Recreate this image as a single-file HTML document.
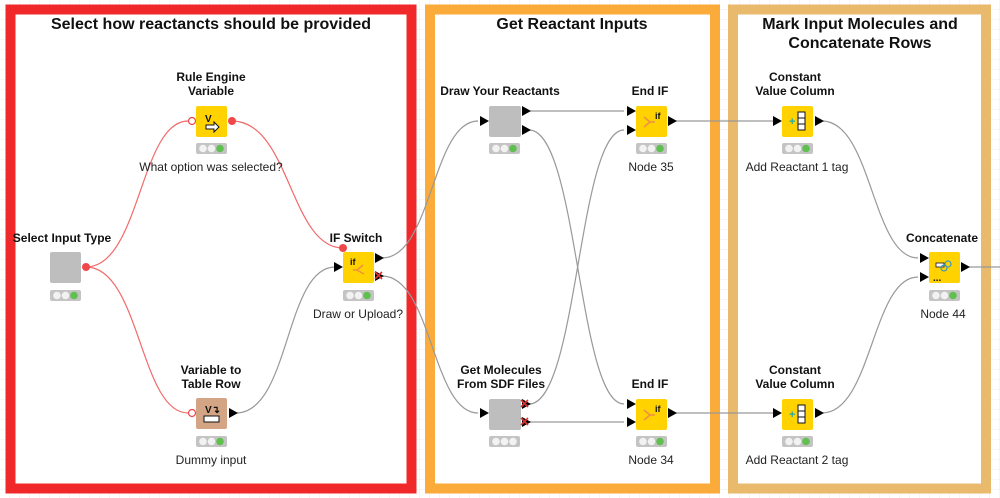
<!DOCTYPE html>
<html><head><meta charset="utf-8"><style>
html,body{margin:0;padding:0;background:#fff;}
svg{display:block;}
text{font-family:"Liberation Sans",Arial,sans-serif;}
.t{font-weight:bold;font-size:12px;text-anchor:middle;fill:#111;}
.l{font-size:12px;text-anchor:middle;fill:#222;}
.h{font-weight:bold;font-size:16px;text-anchor:middle;fill:#111;}
</style></head><body>
<svg width="1000" height="498" viewBox="0 0 1000 498" xmlns="http://www.w3.org/2000/svg">
<defs>
<pattern id="g" width="10" height="10" patternUnits="userSpaceOnUse">
<path d="M10 0V10M0 10H10" stroke="#ececec" stroke-width="1" fill="none"/>
</pattern>
</defs>
<rect width="1000" height="498" fill="#fff"/>
<rect width="1000" height="498" fill="url(#g)"/>
<!-- annotation boxes -->
<rect x="10.5" y="9.5" width="401" height="479" fill="#fff" stroke="#f0282a" stroke-width="10"/>
<rect x="430" y="9.5" width="285" height="479" fill="#fff" stroke="#fbab3a" stroke-width="10"/>
<rect x="733" y="9.5" width="253" height="479" fill="#fff" stroke="#e9b96c" stroke-width="10"/>
<text class="h" x="211" y="29">Select how reactancts should be provided</text>
<text class="h" x="572" y="29">Get Reactant Inputs</text>
<text class="h" x="860" y="29">Mark Input Molecules and</text>
<text class="h" x="860" y="48">Concatenate Rows</text>

<!-- connections -->
<g fill="none" stroke-width="1.2">
<path d="M86 267 C140 267 140 121 188 121" stroke="#f26a6a"/>
<path d="M86 267 C140 267 140 413 188 413" stroke="#f26a6a"/>
<path d="M232 121 C290 121 290 248 343 248" stroke="#f26a6a"/>
<path d="M236 413 C290 413 285 267 335 267" stroke="#999"/>
<path d="M382 258 C432 258 432 121 478 121" stroke="#999"/>
<path d="M382 276 C432 276 432 413 478 413" stroke="#999"/>
<path d="M529 111 L624 111" stroke="#999"/>
<path d="M529 130 C578 130 578 404 624 404" stroke="#999"/>
<path d="M529 404 C578 404 578 130 624 130" stroke="#999"/>
<path d="M529 422 L624 422" stroke="#999"/>
<path d="M675 121 L774 121" stroke="#999"/>
<path d="M675 413 L774 413" stroke="#999"/>
<path d="M822 121 C872 121 872 258 918 258" stroke="#999"/>
<path d="M822 413 C872 413 872 277 918 277" stroke="#999"/>
<path d="M968 267 L1000 267" stroke="#999"/>
</g>

<!-- Select Input Type -->
<text class="t" x="62" y="242">Select Input Type</text>
<rect x="50" y="252" width="31" height="31" rx="2" fill="#bdbebd"/>
<circle cx="86" cy="267" r="4" fill="#f0474a"/>
<g transform="translate(50,290)"><rect width="31" height="11" rx="2" fill="#c4c4c4"/><circle cx="7" cy="5.5" r="3.8" fill="#f2f2f2"/><circle cx="15.5" cy="5.5" r="3.8" fill="#f2f2f2"/><circle cx="24" cy="5.5" r="3.8" fill="#5fbf4f"/></g>

<!-- Rule Engine Variable -->
<text class="t" x="211" y="81">Rule Engine</text>
<text class="t" x="211" y="95">Variable</text>
<rect x="196" y="106" width="31" height="31" rx="2" fill="#ffd200"/>
<text x="205" y="122" font-size="10" font-weight="bold" fill="#111">V</text>
<path d="M206 125h8v-3l5 5-5 5v-3h-8z" fill="#fff" stroke="#111" stroke-width="1"/>
<circle cx="192" cy="121" r="3.5" fill="#fff" stroke="#f0474a" stroke-width="1.2"/>
<circle cx="232" cy="121" r="4" fill="#f0474a"/>
<g transform="translate(196,143)"><rect width="31" height="11" rx="2" fill="#c4c4c4"/><circle cx="7" cy="5.5" r="3.8" fill="#f2f2f2"/><circle cx="15.5" cy="5.5" r="3.8" fill="#f2f2f2"/><circle cx="24" cy="5.5" r="3.8" fill="#5fbf4f"/></g>
<text class="l" x="211" y="171">What option was selected?</text>

<!-- Variable to Table Row -->
<text class="t" x="211" y="374">Variable to</text>
<text class="t" x="211" y="388">Table Row</text>
<rect x="196" y="398" width="31" height="31" rx="2" fill="#d4a585"/>
<text x="205" y="413" font-size="10" font-weight="bold" fill="#111">V↴</text>
<rect x="204" y="416" width="15" height="6" fill="#fff" stroke="#111" stroke-width="1"/>
<circle cx="192" cy="413" r="3.5" fill="#fff" stroke="#f0474a" stroke-width="1.2"/>
<path d="M229 408l9 5-9 5z" fill="#000"/>
<g transform="translate(196,436)"><rect width="31" height="11" rx="2" fill="#c4c4c4"/><circle cx="7" cy="5.5" r="3.8" fill="#f2f2f2"/><circle cx="15.5" cy="5.5" r="3.8" fill="#f2f2f2"/><circle cx="24" cy="5.5" r="3.8" fill="#5fbf4f"/></g>
<text class="l" x="211" y="464">Dummy input</text>

<!-- IF Switch -->
<text class="t" x="356" y="242">IF Switch</text>
<rect x="343" y="252" width="31" height="31" rx="2" fill="#ffd200"/>
<text x="350" y="265" font-size="9" font-weight="bold" fill="#111">if</text>
<path d="M357 270l6-5M357 270l7 4M357 270h-4" stroke="#f09040" stroke-width="1.5" fill="none"/>
<circle cx="343" cy="248" r="4" fill="#f0474a"/>
<path d="M334 262l9 5-9 5z" fill="#000"/>
<path d="M375 253l9 5-9 5z" fill="#000"/>
<path d="M375 271l9 5-9 5z" fill="#000"/>
<path d="M375 272l7 7M382 272l-7 7" stroke="#e03030" stroke-width="1.6"/>
<g transform="translate(343,290)"><rect width="31" height="11" rx="2" fill="#c4c4c4"/><circle cx="7" cy="5.5" r="3.8" fill="#f2f2f2"/><circle cx="15.5" cy="5.5" r="3.8" fill="#f2f2f2"/><circle cx="24" cy="5.5" r="3.8" fill="#5fbf4f"/></g>
<text class="l" x="358" y="318">Draw or Upload?</text>

<!-- Draw Your Reactants -->
<text class="t" x="500" y="95">Draw Your Reactants</text>
<rect x="489" y="106" width="32" height="31" rx="2" fill="#bdbebd"/>
<path d="M480 116l9 5-9 5z" fill="#000"/>
<path d="M522 106l9 5-9 5z" fill="#000"/>
<path d="M522 125l9 5-9 5z" fill="#000"/>
<g transform="translate(489,143)"><rect width="31" height="11" rx="2" fill="#c4c4c4"/><circle cx="7" cy="5.5" r="3.8" fill="#f2f2f2"/><circle cx="15.5" cy="5.5" r="3.8" fill="#f2f2f2"/><circle cx="24" cy="5.5" r="3.8" fill="#5fbf4f"/></g>

<!-- Get Molecules -->
<text class="t" x="501" y="374">Get Molecules</text>
<text class="t" x="501" y="388">From SDF Files</text>
<rect x="489" y="399" width="32" height="31" rx="2" fill="#bdbebd"/>
<path d="M480 408l9 5-9 5z" fill="#000"/>
<path d="M522 399l9 5-9 5z" fill="#000"/>
<path d="M522 417l9 5-9 5z" fill="#000"/>
<path d="M521 400l7 7M528 400l-7 7M521 418l7 7M528 418l-7 7" stroke="#e03030" stroke-width="1.6"/>
<g transform="translate(489,436)"><rect width="31" height="11" rx="2" fill="#c4c4c4"/><circle cx="7" cy="5.5" r="3.8" fill="#f2f2f2"/><circle cx="15.5" cy="5.5" r="3.8" fill="#f2f2f2"/><circle cx="24" cy="5.5" r="3.8" fill="#f2f2f2"/></g>

<!-- End IF top -->
<text class="t" x="650" y="95">End IF</text>
<rect x="636" y="106" width="31" height="31" rx="2" fill="#ffd200"/>
<text x="655" y="119" font-size="9" font-weight="bold" fill="#111">if</text>
<path d="M650 122l-6-5M650 122l-6 5M650 122h5" stroke="#f09040" stroke-width="1.5" fill="none"/>
<path d="M627 106l9 5-9 5z" fill="#000"/>
<path d="M627 125l9 5-9 5z" fill="#000"/>
<path d="M668 116l9 5-9 5z" fill="#000"/>
<g transform="translate(636,143)"><rect width="31" height="11" rx="2" fill="#c4c4c4"/><circle cx="7" cy="5.5" r="3.8" fill="#f2f2f2"/><circle cx="15.5" cy="5.5" r="3.8" fill="#f2f2f2"/><circle cx="24" cy="5.5" r="3.8" fill="#5fbf4f"/></g>
<text class="l" x="651" y="171">Node 35</text>

<!-- End IF bottom -->
<text class="t" x="650" y="388">End IF</text>
<rect x="636" y="399" width="31" height="31" rx="2" fill="#ffd200"/>
<text x="655" y="412" font-size="9" font-weight="bold" fill="#111">if</text>
<path d="M650 415l-6-5M650 415l-6 5M650 415h5" stroke="#f09040" stroke-width="1.5" fill="none"/>
<path d="M627 399l9 5-9 5z" fill="#000"/>
<path d="M627 417l9 5-9 5z" fill="#000"/>
<path d="M668 408l9 5-9 5z" fill="#000"/>
<g transform="translate(636,436)"><rect width="31" height="11" rx="2" fill="#c4c4c4"/><circle cx="7" cy="5.5" r="3.8" fill="#f2f2f2"/><circle cx="15.5" cy="5.5" r="3.8" fill="#f2f2f2"/><circle cx="24" cy="5.5" r="3.8" fill="#5fbf4f"/></g>
<text class="l" x="651" y="464">Node 34</text>

<!-- CVC top -->
<text class="t" x="795" y="81">Constant</text>
<text class="t" x="795" y="95">Value Column</text>
<rect x="782" y="106" width="31" height="31" rx="2" fill="#ffd200"/>
<text x="789" y="125" font-size="11" font-weight="bold" fill="#2aa">+</text>
<rect x="798" y="112" width="7" height="18" fill="#fff" stroke="#111"/>
<path d="M798 118h7M798 124h7" stroke="#111"/>
<path d="M773 116l9 5-9 5z" fill="#000"/>
<path d="M815 116l9 5-9 5z" fill="#000"/>
<g transform="translate(782,143)"><rect width="31" height="11" rx="2" fill="#c4c4c4"/><circle cx="7" cy="5.5" r="3.8" fill="#f2f2f2"/><circle cx="15.5" cy="5.5" r="3.8" fill="#f2f2f2"/><circle cx="24" cy="5.5" r="3.8" fill="#5fbf4f"/></g>
<text class="l" x="797" y="171">Add Reactant 1 tag</text>

<!-- CVC bottom -->
<text class="t" x="795" y="374">Constant</text>
<text class="t" x="795" y="388">Value Column</text>
<rect x="782" y="399" width="31" height="31" rx="2" fill="#ffd200"/>
<text x="789" y="418" font-size="11" font-weight="bold" fill="#2aa">+</text>
<rect x="798" y="405" width="7" height="18" fill="#fff" stroke="#111"/>
<path d="M798 411h7M798 417h7" stroke="#111"/>
<path d="M773 408l9 5-9 5z" fill="#000"/>
<path d="M815 408l9 5-9 5z" fill="#000"/>
<g transform="translate(782,436)"><rect width="31" height="11" rx="2" fill="#c4c4c4"/><circle cx="7" cy="5.5" r="3.8" fill="#f2f2f2"/><circle cx="15.5" cy="5.5" r="3.8" fill="#f2f2f2"/><circle cx="24" cy="5.5" r="3.8" fill="#5fbf4f"/></g>
<text class="l" x="797" y="464">Add Reactant 2 tag</text>

<!-- Concatenate -->
<text class="t" x="942" y="242">Concatenate</text>
<rect x="929" y="252" width="31" height="31" rx="2" fill="#ffd200"/>
<rect x="936" y="263" width="8" height="4" fill="#fff" stroke="#111" stroke-width="0.8"/>
<circle cx="948" cy="264" r="3" fill="none" stroke="#3399cc" stroke-width="1.2"/>
<circle cx="944" cy="268" r="3" fill="none" stroke="#3399cc" stroke-width="1.2"/>
<text x="933" y="281" font-size="10" font-weight="bold" fill="#111">...</text>
<path d="M920 253l9 5-9 5z" fill="#000"/>
<path d="M920 272l9 5-9 5z" fill="#000"/>
<path d="M961 262l9 5-9 5z" fill="#000"/>
<g transform="translate(929,290)"><rect width="31" height="11" rx="2" fill="#c4c4c4"/><circle cx="7" cy="5.5" r="3.8" fill="#f2f2f2"/><circle cx="15.5" cy="5.5" r="3.8" fill="#f2f2f2"/><circle cx="24" cy="5.5" r="3.8" fill="#5fbf4f"/></g>
<text class="l" x="943" y="318">Node 44</text>
</svg>
</body></html>
